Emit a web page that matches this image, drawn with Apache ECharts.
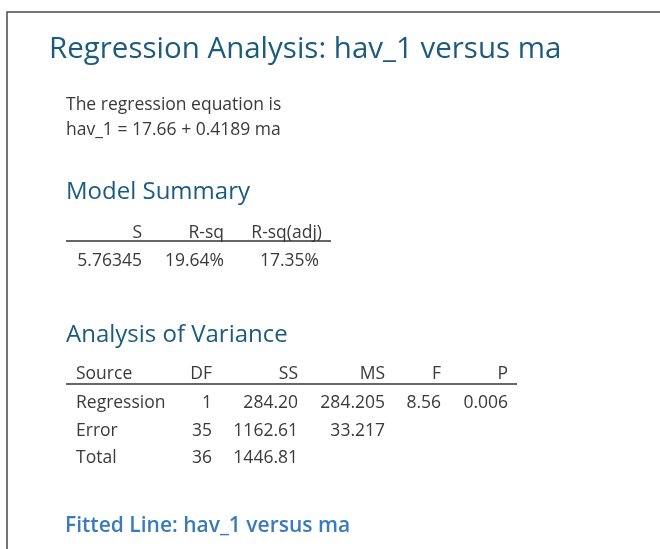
<!DOCTYPE html>
<html>
<head>
<meta charset="utf-8">
<script src="https://cdn.jsdelivr.net/npm/echarts@6/dist/echarts.min.js"></script>
<style>
  html, body { margin: 0; padding: 0; background: #fff; }
  #main { width: 660px; height: 549px; }
</style>
</head>
<body>
<div id="main"></div>
<script>
// report text and table values
var titleText = 'Regression Analysis: hav_1 versus ma';
var equationLines = ['The regression equation is', 'hav_1 = 17.66 + 0.4189 ma'];

var summaryHeaders = ['S', 'R-sq', 'R-sq(adj)'];
var summaryValues = ['5.76345', '19.64%', '17.35%'];

var anovaHeaders = ['Source', 'DF', 'SS', 'MS', 'F', 'P'];
var anovaSources = ['Regression', 'Error', 'Total'];
var anovaDF = ['1', '35', '36'];
var anovaSS = ['284.20', '1162.61', '1446.81'];
var anovaMS = ['284.205', '33.217', ''];
var anovaF = ['8.56', '', ''];
var anovaP = ['0.006', '', ''];

var nextHeading = 'Fitted Line: hav_1 versus ma';

// layout
var FONT = '"Open Sans", "Noto Sans", sans-serif';
var TEAL = '#1b5b7f';
var BODY = '#3a3a3a';
var BODY_SIZE = 17.5;

var myChart = echarts.init(document.getElementById('main'));

function txt(x, y, s, opt) {
    opt = opt || {};
    return {
        type: 'text', x: x, y: y + 2, silent: true,
        style: {
            text: s,
            fill: opt.fill || BODY,
            font: (opt.weight || 'normal') + ' ' + (opt.size || BODY_SIZE) + 'px ' + FONT,
            textAlign: opt.align || 'left',
            textVerticalAlign: 'middle'
        }
    };
}
function hline(x1, x2, y, color, w) {
    return { type: 'line', silent: true, shape: { x1: x1, y1: y, x2: x2, y2: y },
             style: { stroke: color || '#333', lineWidth: w || 1 } };
}

var els = [];
// frame
els.push({ type: 'polyline', silent: true,
    shape: { points: [[7, 549], [7, 12], [660, 12]] },
    style: { stroke: '#4a4a4a', lineWidth: 1.5, fill: null } });

els.push(txt(49, 48, titleText, { size: 29.5, fill: TEAL }));
els.push(txt(66, 103, equationLines[0]));
els.push(txt(66, 128, equationLines[1]));

// model summary
els.push(txt(66, 190, 'Model Summary', { size: 24, fill: TEAL }));
var sumRight = [142, 224, 322];
var sumValRight = [142, 224, 319];
summaryHeaders.forEach(function (h, i) {
    els.push(txt(sumRight[i], 231, h, { align: 'right' }));
});
els.push(hline(66, 331, 241, '#333', 1.4));
summaryValues.forEach(function (v, i) {
    els.push(txt(sumValRight[i], 259, v, { align: 'right' }));
});

// analysis of variance
els.push(txt(66, 333, 'Analysis of Variance', { size: 24, fill: TEAL }));
var colRight = [null, 212, 298, 385, 441, 508];
var rowY = [401, 429, 456];
anovaHeaders.forEach(function (h, i) {
    if (i === 0) els.push(txt(76, 372, h));
    else els.push(txt(colRight[i], 372, h, { align: 'right' }));
});
els.push(hline(66, 517, 384, '#333', 1.4));
var cols = [anovaSources, anovaDF, anovaSS, anovaMS, anovaF, anovaP];
anovaSources.forEach(function (src, r) {
    cols.forEach(function (col, c) {
        if (!col[r]) return;
        if (c === 0) els.push(txt(76, rowY[r], col[r]));
        else els.push(txt(colRight[c], rowY[r], col[r], { align: 'right' }));
    });
});

els.push(txt(65, 524, nextHeading, { size: 21, weight: '600', fill: '#3a7bbd' }));

var option = {
    backgroundColor: '#fff',
    animation: false,
    graphic: { elements: els }
};
myChart.setOption(option);
</script>
</body>
</html>
